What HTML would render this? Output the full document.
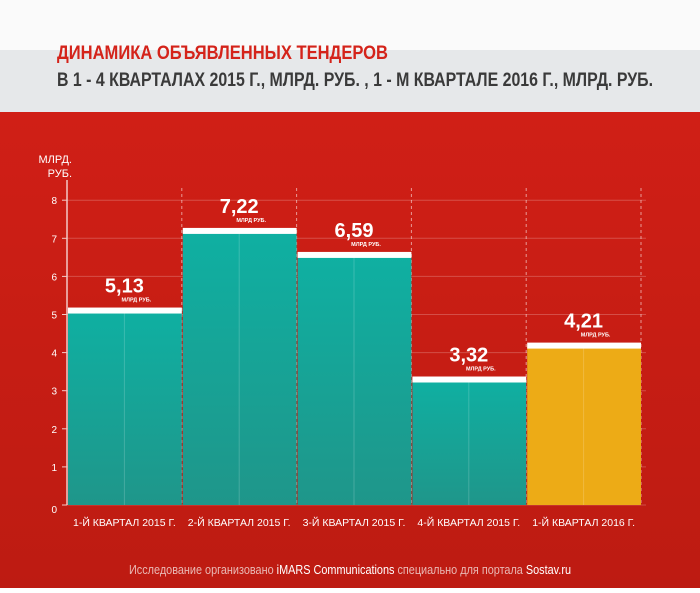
<!DOCTYPE html>
<html><head><meta charset="utf-8"><style>
body{margin:0;width:700px;height:588px;overflow:hidden;font-family:"Liberation Sans",sans-serif}
</style></head><body>
<svg id="chart" width="700" height="588" viewBox="0 0 700 588" xmlns="http://www.w3.org/2000/svg" font-family="Liberation Sans, sans-serif">
<defs>
<linearGradient id="teal" x1="0" y1="0" x2="0" y2="1"><stop offset="0" stop-color="#0fb0a2"/><stop offset="1" stop-color="#1f968a"/></linearGradient>
<linearGradient id="red" x1="0" y1="0" x2="0" y2="1"><stop offset="0" stop-color="#d01f16"/><stop offset="1" stop-color="#bd1b12"/></linearGradient>
</defs>
<rect x="0" y="0" width="700" height="50" fill="#fafafa"/>
<rect x="0" y="50" width="700" height="62" fill="#e6e8ea"/>
<rect x="0" y="112" width="700" height="476" fill="url(#red)"/>
<text x="57" y="59" fill="#d4231a" font-weight="bold" font-size="19" textLength="331" lengthAdjust="spacingAndGlyphs">ДИНАМИКА ОБЪЯВЛЕННЫХ ТЕНДЕРОВ</text>
<text x="57" y="86" fill="#3a3a3a" font-weight="bold" font-size="19" textLength="596" lengthAdjust="spacingAndGlyphs">В 1 - 4 КВАРТАЛАХ 2015 Г., МЛРД. РУБ. , 1 -  М КВАРТАЛЕ 2016 Г., МЛРД. РУБ.</text>
<text x="72" y="163" fill="#fff" font-size="11" text-anchor="end">МЛРД.</text>
<text x="72" y="177" fill="#fff" font-size="11" text-anchor="end">РУБ.</text>
<g id="grid"></g><g id="bars"></g><g id="axis"></g>
<text x="350" y="574" fill="#e9b8b4" font-size="13" text-anchor="middle" textLength="442" lengthAdjust="spacingAndGlyphs">Исследование организовано <tspan fill="#fff">iMARS Communications</tspan> специально для портала <tspan fill="#fff">Sostav.ru</tspan></text>
</svg>
<script>
const categories=["1-Й КВАРТАЛ 2015 Г.","2-Й КВАРТАЛ 2015 Г.","3-Й КВАРТАЛ 2015 Г.","4-Й КВАРТАЛ 2015 Г.","1-Й КВАРТАЛ 2016 Г."];
const values=[5.13,7.22,6.59,3.32,4.21];
const valueLabels=["5,13","7,22","6,59","3,32","4,21"];
const yTicks=[0,1,2,3,4,5,6,7,8];
const NS="http://www.w3.org/2000/svg";
const x0=67,bw=114.8,y0=505,unit=38.1;
const y=v=>y0-v*unit;
const xb=i=>x0+i*bw;
function mk(t,a,p){const e=document.createElementNS(NS,t);for(const k in a)e.setAttribute(k,a[k]);p.appendChild(e);return e;}
const grid=document.getElementById('grid'),bars=document.getElementById('bars'),axis=document.getElementById('axis');
yTicks.forEach(v=>{
 const l=mk('line',{x1:x0,x2:x0+5*bw+5,y1:y(v),y2:y(v),stroke:'rgba(255,255,255,0.22)','stroke-width':1},grid);
 
 
 const tk=mk('line',{x1:x0-5,x2:x0,y1:y(v),y2:y(v),stroke:'#f3c9c6','stroke-width':1},axis);
 
 
 const t=mk('text',{x:x0-10,y:y(v)+(v===0?8:4),fill:'#fff','font-size':10,'text-anchor':'end'},axis);
 t.textContent=v;
 
 
});
for(let i=0;i<=5;i++){
 const l=mk('line',{x1:xb(i),x2:xb(i),y1:188,y2:y0,stroke:'rgba(255,255,255,0.55)','stroke-dasharray':'3,3'},grid);
 
 
}
values.forEach((v,i)=>{
 const r=mk('rect',{x:xb(i)+1,y:y(v),width:bw-1,height:y0-y(v),fill:i===4?'#edab16':'url(#teal)'},bars);
 
 
 const m=mk('line',{x1:xb(i)+bw/2,x2:xb(i)+bw/2,y1:y(v),y2:y0,stroke:'rgba(255,255,255,0.18)'},bars);
 
 
 const c=mk('rect',{x:xb(i)+1,y:y(v)-2,width:bw-1,height:6,fill:'#fff'},bars);
 
 
 const cx=xb(i)+bw/2;
 const t=mk('text',{x:cx,y:y(v)-17,fill:'#fff','font-size':20,'font-weight':'bold','text-anchor':'middle'},bars);
 t.textContent=valueLabels[i];
 
 
 const u=mk('text',{x:cx+12,y:y(v)-8,fill:'#fff','font-size':5.5,'font-weight':'bold','text-anchor':'middle'},bars);
 u.textContent='МЛРД РУБ.';
 
 
 const cl=mk('text',{x:cx,y:526,fill:'#fff','font-size':10.5,'text-anchor':'middle'},axis);
 cl.textContent=categories[i];
 
 
});
const ya=mk('line',{x1:x0,x2:x0,y1:180,y2:y0,stroke:'#f3c9c6','stroke-width':1.5},axis);


</script>
</body></html>
